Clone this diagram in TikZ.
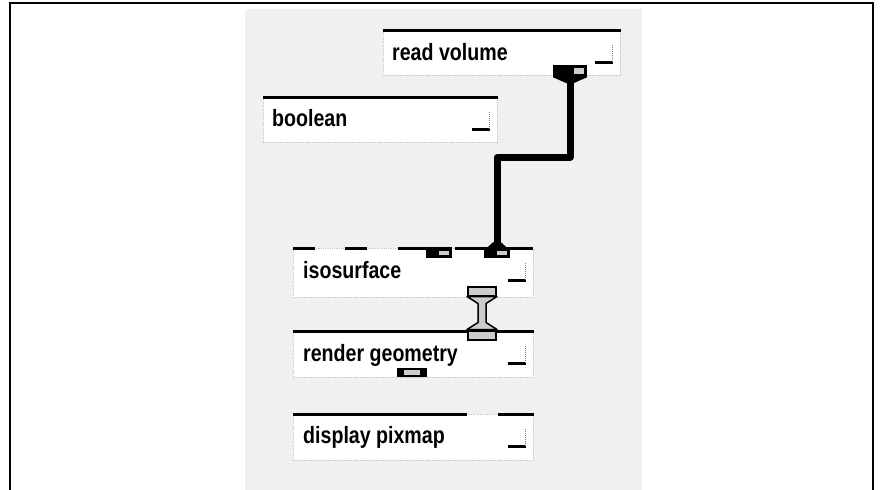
\documentclass[tikz,border=0pt]{standalone}
\usepackage{graphicx}
\usepackage{fontspec}
\setmainfont{Liberation Sans}
\newcommand{\modname}[1]{\scalebox{0.98}[1.18]{#1}}

\begin{document}
\begin{tikzpicture}[x=1pt, y=-1pt,
  modbox/.style={fill=white, draw=gray!45, densely dotted, line width=0.8pt,
                 inner sep=0pt, anchor=north west},
  topbar/.style={line width=3pt},
  modlabel/.style={anchor=base west, inner sep=0pt,
                   font=\bfseries\fontsize{20}{23}\selectfont},
  port/.style={fill=black, inner sep=0pt, minimum width=26pt, minimum height=10pt,
               path picture={\fill[gray!40]
                 ([shift={(-3pt,-3pt)}]path picture bounding box.north east) rectangle
                 ([shift={(-13pt,3pt)}]path picture bounding box.south east);}},
  midport/.style={fill=black, inner sep=0pt, minimum width=30pt, minimum height=9pt,
               path picture={\fill[gray!40]
                 ([shift={(7pt,2pt)}]path picture bounding box.south west) rectangle
                 ([shift={(-7pt,-2pt)}]path picture bounding box.north east);}},
  hport/.style={draw=black, line width=2pt, fill=gray!40, inner sep=0pt,
                minimum width=28pt, minimum height=9pt},
  wire/.style={line width=7pt, line join=round},
  gwire/.style={fill=gray!40, draw=black, line width=1.5pt, line join=round},
]
\useasboundingbox (0,0) rectangle (881,490);

% outer frame and network editor area
\draw[line width=1.5pt] (10,490) -- (10,3) -- (873,3) -- (873,490);
\fill[gray!12] (245,9) rectangle (642,490);

% modules
\node[modbox, minimum width=237pt, minimum height=45pt] (rv) at (383,30) {};
\node[modbox, minimum width=234pt, minimum height=45pt] (bool) at (263,97) {};
\node[modbox, minimum width=240pt, minimum height=49pt] (iso) at (293,248) {};
\node[modbox, minimum width=240pt, minimum height=46pt] (rg) at (293,331) {};
\node[modbox, minimum width=240pt, minimum height=46pt] (dp) at (293,414) {};

\node[modlabel] (rvtxt) at (392,60) {\modname{read volume}};
\node[modlabel] (booltxt) at (272,126) {\modname{boolean}};
\node[modlabel] (isotxt) at (303,278) {\modname{isosurface}};
\node[modlabel] (rgtxt) at (303,361) {\modname{render geometry}};
\node[modlabel] (dptxt) at (303,443) {\modname{display pixmap}};

% title bars
\draw[topbar] (rv.north west) -- (rv.north east);
\draw[topbar] (bool.north west) -- (bool.north east);
\draw[topbar] (rg.north west) -- (rg.north east);
\draw[topbar] (dp.north west) -- ++(174,0);
\draw[topbar] ([xshift=-36pt]dp.north east) -- (dp.north east);
\foreach \a/\b in {0/22, 52/74, 105/159, 162/240}
  \draw[topbar] ([xshift=\a pt]iso.north west) -- ([xshift=\b pt]iso.north west);

% close buttons
\foreach \m in {rv,bool,iso,rg,dp} {
  \draw[line width=3pt] ([shift={(-26pt,-32pt)}]\m.north east) -- ++(18pt,0pt);
  \draw[gray, densely dotted, line width=1pt]
    ([shift={(-8pt,-32pt)}]\m.north east) -- ++(0pt,18pt);
}

% ports
\node[port, minimum width=34pt, minimum height=12pt] (rvout) at (570,71) {};
\node[port] (isoin1) at (439,253) {};
\node[port] (isoin2) at (497,253) {};
\node[hport] (isoout) at (482,291) {};
\node[hport] (rgin) at (482,335) {};
\node[midport] (rgout) at (412,372.5) {};

% read volume -> isosurface
\fill (rvout.south west) -- (rvout.south east)
  -- ([shift={(3.5pt,-6pt)}]rvout.south) -- ([shift={(-3.5pt,-6pt)}]rvout.south) -- cycle;
\fill ([xshift=-10pt]isoin2.north) -- ([xshift=10pt]isoin2.north)
  -- ([shift={(3.5pt,6pt)}]isoin2.north) -- ([shift={(-3.5pt,6pt)}]isoin2.north) -- cycle;
\draw[wire] (rvout.south) -- ++(0,80) -| (isoin2.north);

% isosurface -> render geometry
\filldraw[gwire] (isoout.south west) -- (isoout.south east)
  -- ([shift={(4pt,-7pt)}]isoout.south) -- ([shift={(4pt,7pt)}]rgin.north)
  -- (rgin.north east) -- (rgin.north west)
  -- ([shift={(-4pt,7pt)}]rgin.north) -- ([shift={(-4pt,-7pt)}]isoout.south) -- cycle;
\end{tikzpicture}
\end{document}
